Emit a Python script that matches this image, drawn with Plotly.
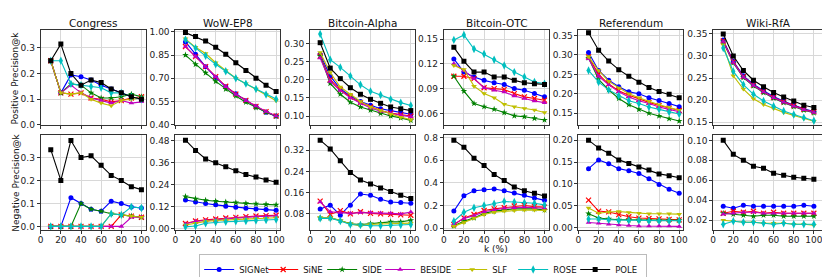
import plotly.graph_objects as go

k = [10, 20, 30, 40, 50, 60, 70, 80, 90, 100]
methods = ["SIGNet", "SiNE", "SIDE", "BESIDE", "SLF", "ROSE", "POLE"]
datasets = ["Congress", "WoW-EP8", "Bitcoin-Alpha", "Bitcoin-OTC", "Referendum", "Wiki-RfA"]

congress_pos = {
    "SIGNet": [0.25, 0.125, 0.195, 0.188, 0.175, 0.155, 0.14, 0.125, 0.11, 0.10],
    "SiNE":   [0.25, 0.125, 0.12, 0.125, 0.105, 0.10, 0.09, 0.095, 0.105, 0.11],
    "SIDE":   [0.25, 0.125, 0.16, 0.155, 0.125, 0.105, 0.105, 0.11, 0.12, 0.11],
    "BESIDE": [0.25, 0.125, 0.155, 0.125, 0.105, 0.095, 0.085, 0.095, 0.085, 0.09],
    "SLF":    [0.25, 0.125, 0.12, 0.125, 0.10, 0.085, 0.075, 0.095, 0.10, 0.105],
    "ROSE":   [0.25, 0.25, 0.16, 0.155, 0.15, 0.145, 0.125, 0.125, 0.11, 0.10],
    "POLE":   [0.25, 0.315, 0.20, 0.155, 0.175, 0.165, 0.14, 0.125, 0.11, 0.10],
}
wow_pos = {
    "SIGNet": [0.935, 0.855, 0.775, 0.705, 0.645, 0.60, 0.555, 0.515, 0.48, 0.455],
    "SiNE":   [0.905, 0.84, 0.775, 0.71, 0.648, 0.597, 0.557, 0.518, 0.484, 0.456],
    "SIDE":   [0.85, 0.79, 0.735, 0.68, 0.63, 0.585, 0.545, 0.51, 0.48, 0.455],
    "BESIDE": [0.905, 0.84, 0.775, 0.71, 0.645, 0.595, 0.555, 0.52, 0.485, 0.455],
    "SLF":    [0.955, 0.90, 0.86, 0.80, 0.75, 0.70, 0.665, 0.63, 0.595, 0.555],
    "ROSE":   [0.95, 0.895, 0.845, 0.79, 0.745, 0.70, 0.665, 0.63, 0.595, 0.565],
    "POLE":   [0.995, 0.97, 0.94, 0.90, 0.855, 0.80, 0.75, 0.70, 0.655, 0.615],
}
alpha_pos = {
    "SIGNet": [0.27, 0.21, 0.175, 0.155, 0.14, 0.13, 0.12, 0.115, 0.11, 0.105],
    "SiNE":   [0.265, 0.20, 0.172, 0.152, 0.137, 0.125, 0.115, 0.108, 0.103, 0.10],
    "SIDE":   [0.265, 0.19, 0.16, 0.138, 0.125, 0.116, 0.107, 0.10, 0.095, 0.088],
    "BESIDE": [0.26, 0.195, 0.17, 0.15, 0.135, 0.122, 0.113, 0.107, 0.102, 0.098],
    "SLF":    [0.275, 0.22, 0.18, 0.16, 0.14, 0.125, 0.115, 0.105, 0.097, 0.09],
    "ROSE":   [0.326, 0.255, 0.234, 0.21, 0.186, 0.168, 0.158, 0.146, 0.137, 0.129],
    "POLE":   [0.302, 0.232, 0.203, 0.178, 0.16, 0.146, 0.135, 0.125, 0.12, 0.115],
}
otc_pos = {
    "SIGNet": [0.126, 0.11, 0.104, 0.10, 0.097, 0.095, 0.09, 0.088, 0.084, 0.08],
    "SiNE":   [0.105, 0.105, 0.102, 0.091, 0.09, 0.089, 0.084, 0.08, 0.078, 0.076],
    "SIDE":   [0.105, 0.087, 0.072, 0.068, 0.065, 0.061, 0.057, 0.056, 0.054, 0.052],
    "BESIDE": [0.12, 0.112, 0.102, 0.091, 0.088, 0.086, 0.081, 0.078, 0.075, 0.073],
    "SLF":    [0.118, 0.113, 0.093, 0.084, 0.079, 0.071, 0.068, 0.066, 0.064, 0.061],
    "ROSE":   [0.149, 0.155, 0.138, 0.132, 0.125, 0.118, 0.11, 0.104, 0.098, 0.096],
    "POLE":   [0.14, 0.123, 0.11, 0.11, 0.104, 0.104, 0.10, 0.097, 0.096, 0.095],
}
ref_pos = {
    "SIGNet": [0.306, 0.26, 0.235, 0.218, 0.205, 0.20, 0.19, 0.183, 0.175, 0.167],
    "SiNE":   [0.295, 0.25, 0.225, 0.208, 0.196, 0.186, 0.178, 0.17, 0.163, 0.157],
    "SIDE":   [0.292, 0.237, 0.21, 0.188, 0.172, 0.16, 0.15, 0.143, 0.136, 0.13],
    "BESIDE": [0.29, 0.245, 0.223, 0.205, 0.192, 0.182, 0.175, 0.166, 0.16, 0.154],
    "SLF":    [0.295, 0.26, 0.232, 0.215, 0.20, 0.19, 0.18, 0.172, 0.165, 0.158],
    "ROSE":   [0.26, 0.23, 0.21, 0.195, 0.182, 0.175, 0.166, 0.16, 0.153, 0.148],
    "POLE":   [0.357, 0.312, 0.284, 0.262, 0.245, 0.23, 0.216, 0.206, 0.199, 0.19],
}
wiki_pos = {
    "SIGNet": [0.336, 0.288, 0.255, 0.236, 0.221, 0.208, 0.197, 0.188, 0.18, 0.174],
    "SiNE":   [0.334, 0.287, 0.253, 0.234, 0.219, 0.206, 0.196, 0.187, 0.179, 0.173],
    "SIDE":   [0.332, 0.284, 0.251, 0.232, 0.217, 0.204, 0.194, 0.185, 0.177, 0.171],
    "BESIDE": [0.333, 0.285, 0.252, 0.233, 0.218, 0.205, 0.195, 0.186, 0.178, 0.172],
    "SLF":    [0.325, 0.255, 0.225, 0.203, 0.19, 0.181, 0.172, 0.165, 0.158, 0.152],
    "ROSE":   [0.318, 0.265, 0.235, 0.213, 0.198, 0.186, 0.175, 0.167, 0.16, 0.153],
    "POLE":   [0.35, 0.30, 0.267, 0.245, 0.23, 0.217, 0.207, 0.198, 0.188, 0.183],
}
congress_neg = {
    "SIGNet": [0.0, 0.0, 0.125, 0.10, 0.075, 0.066, 0.11, 0.10, 0.085, 0.08],
    "SiNE":   [0.0, 0.0, 0.0, 0.0, 0.0, 0.0, 0.0, 0.05, 0.045, 0.04],
    "SIDE":   [0.0, 0.0, 0.0, 0.10, 0.075, 0.066, 0.055, 0.05, 0.045, 0.04],
    "BESIDE": [0.0, 0.0, 0.0, 0.0, 0.0, 0.0, 0.0, 0.0, 0.04, 0.04],
    "SLF":    [0.0, 0.0, 0.0, 0.0, 0.0, 0.0, 0.055, 0.05, 0.045, 0.04],
    "ROSE":   [0.0, 0.0, 0.0, 0.0, 0.0, 0.0, 0.055, 0.05, 0.085, 0.08],
    "POLE":   [0.334, 0.20, 0.374, 0.30, 0.307, 0.266, 0.222, 0.20, 0.173, 0.16],
}
wow_neg = {
    "SIGNet": [0.156, 0.145, 0.137, 0.13, 0.123, 0.117, 0.112, 0.108, 0.104, 0.10],
    "SiNE":   [0.028, 0.042, 0.048, 0.053, 0.058, 0.062, 0.066, 0.069, 0.071, 0.073],
    "SIDE":   [0.175, 0.163, 0.155, 0.15, 0.145, 0.142, 0.138, 0.135, 0.133, 0.13],
    "BESIDE": [0.025, 0.04, 0.045, 0.05, 0.055, 0.06, 0.063, 0.066, 0.068, 0.07],
    "SLF":    [0.02, 0.03, 0.04, 0.045, 0.048, 0.05, 0.053, 0.055, 0.057, 0.06],
    "ROSE":   [0.01, 0.015, 0.03, 0.035, 0.038, 0.04, 0.042, 0.045, 0.047, 0.05],
    "POLE":   [0.483, 0.427, 0.38, 0.36, 0.338, 0.316, 0.295, 0.282, 0.265, 0.253],
}
alpha_neg = {
    "SIGNet": [0.098, 0.113, 0.075, 0.113, 0.155, 0.15, 0.135, 0.125, 0.123, 0.12],
    "SiNE":   [0.128, 0.078, 0.092, 0.08, 0.088, 0.082, 0.08, 0.078, 0.076, 0.075],
    "SIDE":   [0.065, 0.065, 0.055, 0.043, 0.04, 0.043, 0.045, 0.05, 0.05, 0.056],
    "BESIDE": [0.125, 0.088, 0.085, 0.082, 0.085, 0.085, 0.083, 0.082, 0.08, 0.087],
    "SLF":    [0.066, 0.066, 0.055, 0.042, 0.035, 0.04, 0.042, 0.043, 0.043, 0.045],
    "ROSE":   [0.063, 0.064, 0.053, 0.04, 0.038, 0.035, 0.035, 0.037, 0.038, 0.04],
    "POLE":   [0.358, 0.325, 0.28, 0.236, 0.208, 0.193, 0.178, 0.164, 0.15, 0.138],
}
otc_neg = {
    "SIGNet": [0.15, 0.285, 0.33, 0.34, 0.345, 0.33, 0.31, 0.29, 0.265, 0.245],
    "SiNE":   [0.03, 0.09, 0.12, 0.155, 0.17, 0.18, 0.195, 0.20, 0.19, 0.185],
    "SIDE":   [0.02, 0.06, 0.09, 0.13, 0.15, 0.16, 0.17, 0.17, 0.17, 0.16],
    "BESIDE": [0.035, 0.085, 0.11, 0.145, 0.16, 0.175, 0.18, 0.185, 0.18, 0.175],
    "SLF":    [0.015, 0.05, 0.09, 0.12, 0.14, 0.15, 0.155, 0.16, 0.16, 0.155],
    "ROSE":   [0.06, 0.14, 0.18, 0.20, 0.215, 0.235, 0.23, 0.225, 0.22, 0.205],
    "POLE":   [0.778, 0.716, 0.618, 0.554, 0.475, 0.42, 0.364, 0.33, 0.308, 0.283],
}
ref_neg = {
    "SIGNet": [0.135, 0.155, 0.146, 0.135, 0.13, 0.124, 0.112, 0.099, 0.088, 0.079],
    "SiNE":   [0.063, 0.038, 0.036, 0.03, 0.025, 0.022, 0.021, 0.02, 0.019, 0.018],
    "SIDE":   [0.032, 0.022, 0.02, 0.018, 0.018, 0.018, 0.017, 0.017, 0.017, 0.017],
    "BESIDE": [0.012, 0.01, 0.008, 0.006, 0.005, 0.004, 0.004, 0.004, 0.004, 0.003],
    "SLF":    [0.045, 0.033, 0.036, 0.037, 0.035, 0.033, 0.032, 0.032, 0.032, 0.031],
    "ROSE":   [0.02, 0.02, 0.018, 0.017, 0.017, 0.017, 0.016, 0.016, 0.016, 0.016],
    "POLE":   [0.20, 0.182, 0.17, 0.155, 0.147, 0.139, 0.132, 0.123, 0.119, 0.114],
}
wiki_neg = {
    "SIGNet": [0.034, 0.032, 0.035, 0.034, 0.034, 0.034, 0.034, 0.034, 0.035, 0.034],
    "SiNE":   [0.027, 0.029, 0.028, 0.029, 0.027, 0.028, 0.027, 0.027, 0.027, 0.027],
    "SIDE":   [0.027, 0.026, 0.025, 0.024, 0.025, 0.025, 0.024, 0.024, 0.024, 0.024],
    "BESIDE": [0.026, 0.027, 0.028, 0.028, 0.027, 0.027, 0.027, 0.027, 0.027, 0.027],
    "SLF":    [0.02, 0.019, 0.018, 0.018, 0.017, 0.017, 0.017, 0.016, 0.016, 0.015],
    "ROSE":   [0.016, 0.019, 0.018, 0.018, 0.017, 0.016, 0.017, 0.016, 0.016, 0.016],
    "POLE":   [0.10, 0.086, 0.08, 0.074, 0.072, 0.067, 0.065, 0.063, 0.062, 0.061],
}

panels = [congress_pos, wow_pos, alpha_pos, otc_pos, ref_pos, wiki_pos,
          congress_neg, wow_neg, alpha_neg, otc_neg, ref_neg, wiki_neg]

# y tick values per panel
yticks = [
    [0.0, 0.1, 0.2, 0.3], [0.40, 0.55, 0.70, 0.85, 1.00], [0.10, 0.15, 0.20, 0.25, 0.30],
    [0.06, 0.09, 0.12, 0.15], [0.15, 0.20, 0.25, 0.30, 0.35], [0.15, 0.20, 0.25, 0.30, 0.35],
    [0.0, 0.1, 0.2, 0.3], [0.00, 0.12, 0.24, 0.36, 0.48], [0.08, 0.16, 0.24, 0.32],
    [0.0, 0.2, 0.4, 0.6, 0.8], [0.00, 0.05, 0.10, 0.15, 0.20], [0.02, 0.04, 0.06, 0.08, 0.10],
]
yfmt = [".1f", ".2f", ".2f", ".2f", ".2f", ".2f", ".1f", ".2f", ".2f", ".1f", ".2f", ".2f"]
yranges = [
    [0, 0.37], [0.398, 1.012], [0.0755, 0.337], [0.046, 0.161], [0.12, 0.364], [0.1435, 0.359],
    [-0.017, 0.396], [-0.009, 0.509], [0.018, 0.376], [-0.02, 0.82], [-0.006, 0.211], [0.0099, 0.105],
]

styles = {
    "SIGNet": dict(color="#0000FF", symbol="circle", size=5, lw=19),
    "SiNE":   dict(color="#FF0000", symbol="x-thin", size=5, lw=14),
    "SIDE":   dict(color="#008000", symbol="star", size=5, lw=13),
    "BESIDE": dict(color="#BF00BF", symbol="triangle-up", size=5, lw=27),
    "SLF":    dict(color="#BFBF00", symbol="triangle-down", size=5, lw=16),
    "ROSE":   dict(color="#00BFBF", symbol="diamond-tall", size=6, lw=17),
    "POLE":   dict(color="#000000", symbol="square", size=5, lw=26),
}

W, H = 830, 277
col_left = [30, 166, 302, 437, 573, 709]
col_w = [106, 106, 106, 106, 106, 112]
row_top = [20, 131]
row_h = 100

fig = go.Figure()
layout = dict(
    width=W, height=H, margin=dict(l=0, r=0, t=0, b=0),
    plot_bgcolor="white", paper_bgcolor="white",
    font=dict(family="DejaVu Sans", size=9, color="#222"),
    showlegend=True,
)
font_fam = "DejaVu Sans"
annotations = []
for i, pdata in enumerate(panels):
    r, c = divmod(i, 6)
    n = i + 1
    xa = "x" if n == 1 else f"x{n}"
    ya = "y" if n == 1 else f"y{n}"
    for m in methods:
        st = styles[m]
        mk = dict(color=st["color"], symbol=st["symbol"], size=st["size"])
        if st["symbol"] == "x-thin":
            mk["line"] = dict(color=st["color"], width=1.2)
        fig.add_trace(go.Scatter(
            x=k, y=pdata[m], mode="lines+markers", name=m,
            line=dict(color=st["color"], width=1.1), marker=mk,
            xaxis=xa, yaxis=ya, showlegend=(i == 0), legendgroup=m,
            legendwidth=st["lw"],
        ))
    x0 = col_left[c] / W
    x1 = (col_left[c] + col_w[c]) / W
    y1 = 1 - row_top[r] / H
    y0 = 1 - (row_top[r] + row_h) / H
    xr = [0, col_w[c] * 100 / 101.7]
    layout[f"xaxis{n}"] = dict(
        domain=[x0, x1], anchor=ya, range=xr, tickvals=[0, 20, 40, 60, 80, 100],
        showticklabels=(r == 1), ticks="outside", ticklen=3, tickcolor="#333",
        ticklabelstandoff=-2,
        showgrid=True, gridcolor="#d8d8d8", gridwidth=1, zeroline=False,
        showline=True, mirror=True, linecolor="#333", linewidth=1,
        tickfont=dict(size=9, family=font_fam, color="#222"),
    )
    layout[f"yaxis{n}"] = dict(
        domain=[y0, y1], anchor=xa, range=yranges[i], tickvals=yticks[i], tickformat=yfmt[i],
        ticks="outside", ticklen=3, tickcolor="#333",
        showgrid=True, gridcolor="#d8d8d8", gridwidth=1, zeroline=False,
        showline=True, mirror=True, linecolor="#333", linewidth=1,
        tickfont=dict(size=9, family=font_fam, color="#222"),
    )
    if r == 0:
        annotations.append(dict(
            text=datasets[c], x=(x0 + x1) / 2, y=1 - 13 / H, xref="paper", yref="paper",
            showarrow=False, font=dict(size=10.5, family=font_fam, color="#111"),
            xanchor="center", yanchor="middle",
        ))

annotations.append(dict(text="Positive Precision@k", x=5 / W, y=1 - 70 / H, xref="paper", yref="paper",
                        textangle=-90, showarrow=False, font=dict(size=9, family=font_fam, color="#111"),
                        xanchor="center", yanchor="middle"))
annotations.append(dict(text="Negative Precision@k", x=5 / W, y=1 - 181 / H, xref="paper", yref="paper",
                        textangle=-90, showarrow=False, font=dict(size=9, family=font_fam, color="#111"),
                        xanchor="center", yanchor="middle"))
annotations.append(dict(text="k (%)", x=490 / W, y=1 - 251 / H, xref="paper", yref="paper",
                        showarrow=False, font=dict(size=9, family=font_fam, color="#111"),
                        xanchor="center", yanchor="middle"))
layout["annotations"] = annotations
layout["legend"] = dict(
    orientation="h", x=190 / W, y=1 - 256 / H, xanchor="left", yanchor="top",
    bordercolor="#bbb", borderwidth=1, bgcolor="white",
    font=dict(size=8.5, family=font_fam, color="#111"), itemwidth=30,
    tracegroupgap=0,
)
fig.update_layout(**layout)
fig.write_html("out.html")
